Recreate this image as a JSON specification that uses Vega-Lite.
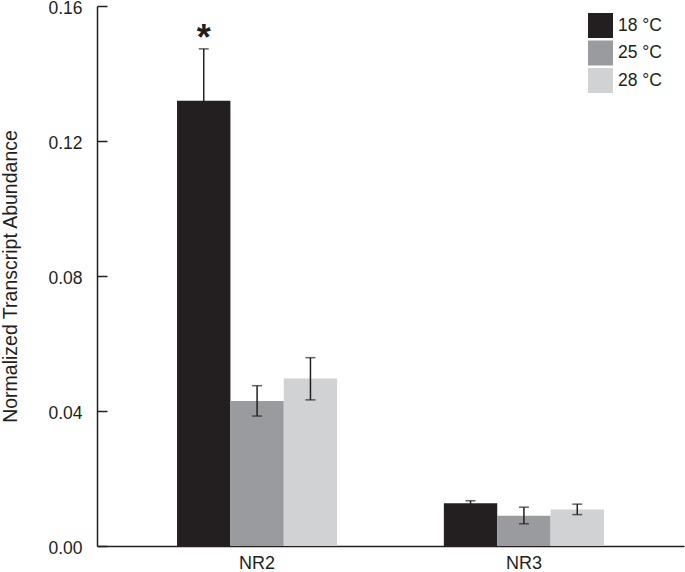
{
  "$schema": "https://vega.github.io/schema/vega-lite/v6.json",
  "width": 587,
  "height": 540,
  "autosize": "none",
  "padding": {"left": 97, "top": 6, "right": 1, "bottom": 26},
  "background": "white",
  "config": {
    "view": {"stroke": null},
    "font": "Liberation Sans",
    "axis": {"grid": false, "domainColor": "#231f20", "domainWidth": 1.5, "tickColor": "#231f20", "tickWidth": 1.5, "labelColor": "#231f20", "titleColor": "#231f20", "labelFont": "Liberation Sans", "titleFont": "Liberation Sans"}
  },
  "data": {
    "values": [
      {"gene": "NR2", "temp": "18 °C", "value": 0.1319, "lower": 0.1165, "upper": 0.1473, "sig": "*"},
      {"gene": "NR2", "temp": "25 °C", "value": 0.0430, "lower": 0.0385, "upper": 0.0475, "sig": ""},
      {"gene": "NR2", "temp": "28 °C", "value": 0.0496, "lower": 0.0433, "upper": 0.0558, "sig": ""},
      {"gene": "NR3", "temp": "18 °C", "value": 0.01265, "lower": 0.0119, "upper": 0.0134, "sig": ""},
      {"gene": "NR3", "temp": "25 °C", "value": 0.0090, "lower": 0.0066, "upper": 0.0115, "sig": ""},
      {"gene": "NR3", "temp": "28 °C", "value": 0.0108, "lower": 0.0093, "upper": 0.0124, "sig": ""}
    ]
  },
  "encoding": {
    "x": {"field": "gene", "type": "nominal", "scale": {"paddingInner": 0.4, "paddingOuter": 0.3},
      "axis": {"title": null, "labelAngle": 0, "ticks": false, "labelFontSize": 18, "labelPadding": 8}},
    "xOffset": {"field": "temp", "type": "nominal", "scale": {"paddingInner": 0, "paddingOuter": 0}}
  },
  "layer": [
    {
      "mark": {"type": "bar"},
      "encoding": {
        "y": {"field": "value", "type": "quantitative", "scale": {"domain": [0, 0.16]},
          "axis": {"values": [0, 0.04, 0.08, 0.12, 0.16], "format": ".2f", "labelFontSize": 17.5, "ticks": false, "labelPadding": 15, "labelOffset": 2,
            "grid": true, "gridColor": "#231f20", "gridWidth": 1.5, "gridDash": [10, 2000], "gridOpacity": 1,
            "title": "Normalized Transcript Abundance", "titleFontSize": 19.5, "titleFontWeight": "normal", "titleX": -87, "titleY": 270, "titleAngle": 270, "titleAlign": "center", "titleBaseline": "middle"}},
        "color": {"field": "temp", "type": "nominal",
          "scale": {"domain": ["18 °C", "25 °C", "28 °C"], "range": ["#231f20", "#9a9b9e", "#d1d2d4"]},
          "legend": {"title": null, "orient": "none", "legendX": 491, "legendY": 7, "symbolType": "square", "symbolSize": 625, "symbolStrokeWidth": 0, "symbolOpacity": 1, "labelFontSize": 17.5, "labelOffset": 5, "rowPadding": 2.5, "labelColor": "#231f20"}}
      }
    },
    {
      "mark": {"type": "rule", "color": "#231f20", "strokeWidth": 1.5},
      "encoding": {
        "y": {"field": "lower", "type": "quantitative"},
        "y2": {"field": "upper"}
      }
    },
    {
      "mark": {"type": "tick", "color": "#231f20", "size": 10, "thickness": 1.5},
      "encoding": {"y": {"field": "upper", "type": "quantitative"}}
    },
    {
      "mark": {"type": "tick", "color": "#231f20", "size": 10, "thickness": 1.5},
      "encoding": {"y": {"field": "lower", "type": "quantitative"}}
    },
    {
      "transform": [{"filter": "datum.sig != ''"}],
      "mark": {"type": "text", "fontSize": 36, "fontWeight": "bold", "baseline": "alphabetic", "dy": 1, "color": "#231f20"},
      "encoding": {
        "y": {"field": "upper", "type": "quantitative"},
        "text": {"field": "sig"}
      }
    }
  ]
}
